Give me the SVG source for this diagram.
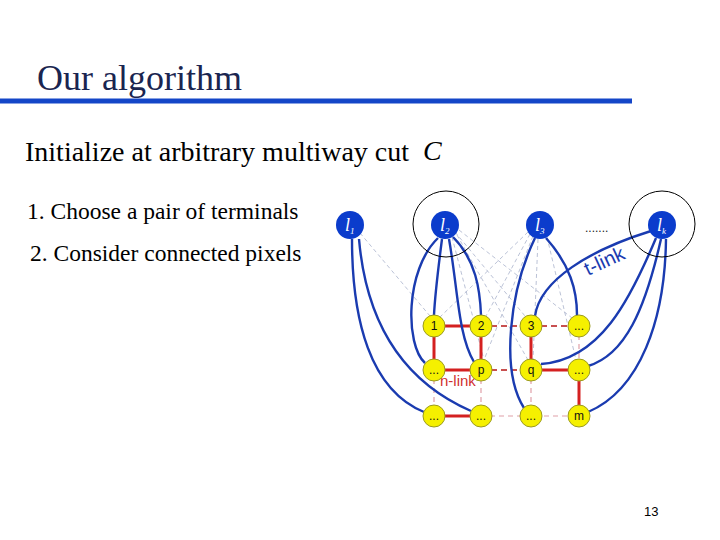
<svg xmlns="http://www.w3.org/2000/svg" width="720" height="540" viewBox="0 0 720 540">
<style>
.serif{font-family:"Liberation Serif","Times New Roman",serif}
.sans{font-family:"Liberation Sans",Arial,sans-serif}
.term{fill:#0b3ccc}
.tl{fill:#ffffff;font-family:"Liberation Serif",serif;font-style:italic;font-size:18px}
.ts{font-size:9px}
.pix{fill:#f5f000;stroke:#9a9a20;stroke-width:1}
.pl{font-family:"Liberation Sans",Arial,sans-serif;font-size:12px;fill:#111}
.blue{fill:none;stroke:#1a3bb0;stroke-width:2.4}
.gd{fill:none;stroke:#aab3cc;stroke-width:0.8;stroke-dasharray:4 3}
.rs{stroke:#d42020;stroke-width:3;fill:none}
.rd{stroke:#c85050;stroke-width:1.8;stroke-dasharray:6 4;fill:none}
.rl{stroke:#e0a0a8;stroke-width:1.2;stroke-dasharray:5 4;fill:none}
.ring{fill:none;stroke:#000;stroke-width:1}
</style>
<rect width="720" height="540" fill="#fff"/>
<text x="37" y="90" font-family="Liberation Serif, serif" font-size="36" fill="#1a2550">Our algorithm</text>
<line x1="0" y1="101" x2="632" y2="101" stroke="#1446c8" stroke-width="5"/>
<text x="25" y="161" font-family="Liberation Serif, serif" font-size="28" fill="#000">Initialize at arbitrary multiway cut</text>
<text x="423" y="160" font-family="Liberation Serif, serif" font-style="italic" font-size="28" fill="#000">C</text>
<text x="27" y="219" font-family="Liberation Serif, serif" font-size="23.5" fill="#000">1. Choose a pair of terminals</text>
<text x="30" y="261" font-family="Liberation Serif, serif" font-size="23.5" fill="#000">2. Consider connected pixels</text>
<text x="644" y="516" class="sans" font-size="13" fill="#000">13</text>

<g id="connectors">
<g id="gray-dashed">
<path class="gd" d="M360 233 L430 316"/>
<path class="gd" d="M455 232 L525 316"/>
<path class="gd" d="M457 235 L528 360"/>
<path class="gd" d="M459 230 L572 318"/>
<path class="gd" d="M452 237 L484 360"/>
<path class="gd" d="M528 232 L440 317"/>
<path class="gd" d="M530 234 L486 316"/>
<path class="gd" d="M533 236 L484 360"/>
<path class="gd" d="M547 237 L576 360"/>
<path class="gd" d="M538 239 L533 360"/>
</g>
<g id="n-links">
<line class="rl" x1="434" y1="370" x2="434" y2="416"/>
<line class="rl" x1="481" y1="370" x2="481" y2="416"/>
<line class="rl" x1="531" y1="370" x2="531" y2="416"/>
<line class="rl" x1="481" y1="416" x2="579" y2="416"/>
<line class="rd" x1="481" y1="326" x2="579" y2="326"/>
<line class="rd" x1="481" y1="370" x2="531" y2="370"/>
<line class="rl" x1="579" y1="326" x2="579" y2="370"/>
<line class="rs" x1="434" y1="326" x2="481" y2="326"/>
<line class="rs" x1="434" y1="326" x2="434" y2="370"/>
<line class="rs" x1="481" y1="326" x2="481" y2="370"/>
<line class="rs" x1="434" y1="370" x2="481" y2="370"/>
<line class="rs" x1="434" y1="416" x2="481" y2="416" stroke-width="4"/>
<line class="rs" x1="531" y1="326" x2="531" y2="370"/>
<line class="rs" x1="531" y1="370" x2="579" y2="370" stroke-width="4"/>
<line class="rs" x1="579" y1="370" x2="579" y2="416"/>
</g>
<g id="t-links">
<path class="blue" d="M352 239 C352 320 370 390 424 412"/>
<path class="blue" d="M359 239 C366 320 400 380 471 411"/>
<path class="blue" d="M438 238 C405 270 405 345 425 363"/>
<path class="blue" d="M442 239 C438 270 435 295 434 315"/>
<path class="blue" d="M449 239 C458 290 458 335 474 362"/>
<path class="blue" d="M453 237 C476 260 480 290 481 315"/>
<path class="blue" d="M535 238 C510 290 500 370 524 408"/>
<path class="blue" d="M546 238 C570 265 577 290 577 315"/>
<path class="blue" d="M651 231 C590 250 540 280 535 316"/>
<path class="blue" d="M656 238 C630 300 600 360 541 364"/>
<path class="blue" d="M661 239 C645 310 625 355 588 366"/>
<path class="blue" d="M666 239 C665 320 640 390 588 412"/>
</g>
</g>

<text class="sans" font-size="15" fill="#d03030" x="440" y="386">n-link</text>
<text class="sans" font-size="20" fill="#1a3bb0" transform="translate(588 276) rotate(-25)">t-link</text>
<text class="sans" font-size="12" fill="#222" x="585" y="232">.......</text>

<g id="ring-l2"><circle class="ring" cx="446" cy="224" r="33"/></g>
<g id="ring-lk"><circle class="ring" cx="662" cy="224" r="33"/></g>

<g id="l1"><circle class="term" cx="350" cy="225" r="14"/><text class="tl" x="345" y="231">l<tspan class="ts" dy="3">1</tspan></text></g>
<g id="l2"><circle class="term" cx="445" cy="225" r="14"/><text class="tl" x="440" y="231">l<tspan class="ts" dy="3">2</tspan></text></g>
<g id="l3"><circle class="term" cx="540" cy="225" r="14"/><text class="tl" x="535" y="231">l<tspan class="ts" dy="3">3</tspan></text></g>
<g id="lk"><circle class="term" cx="662" cy="225" r="14"/><text class="tl" x="657" y="231">l<tspan class="ts" dy="3">k</tspan></text></g>

<g id="p1"><circle class="pix" cx="434" cy="326" r="11"/><text class="pl" x="434" y="330" text-anchor="middle">1</text></g>
<g id="p2"><circle class="pix" cx="481" cy="326" r="11"/><text class="pl" x="481" y="330" text-anchor="middle">2</text></g>
<g id="p3"><circle class="pix" cx="531" cy="326" r="11"/><text class="pl" x="531" y="330" text-anchor="middle">3</text></g>
<g id="p4"><circle class="pix" cx="579" cy="326" r="11"/><text class="pl" x="579" y="330" text-anchor="middle">...</text></g>
<g id="p5"><circle class="pix" cx="434" cy="370" r="11"/><text class="pl" x="434" y="374" text-anchor="middle">...</text></g>
<g id="pp"><circle class="pix" cx="481" cy="370" r="11"/><text class="pl" x="481" y="374" text-anchor="middle">p</text></g>
<g id="pq"><circle class="pix" cx="531" cy="370" r="11"/><text class="pl" x="531" y="374" text-anchor="middle">q</text></g>
<g id="p8"><circle class="pix" cx="579" cy="370" r="11"/><text class="pl" x="579" y="374" text-anchor="middle">...</text></g>
<g id="p9"><circle class="pix" cx="434" cy="416" r="11"/><text class="pl" x="434" y="420" text-anchor="middle">...</text></g>
<g id="p10"><circle class="pix" cx="481" cy="416" r="11"/><text class="pl" x="481" y="420" text-anchor="middle">...</text></g>
<g id="p11"><circle class="pix" cx="531" cy="416" r="11"/><text class="pl" x="531" y="420" text-anchor="middle">...</text></g>
<g id="pm"><circle class="pix" cx="579" cy="416" r="11"/><text class="pl" x="579" y="420" text-anchor="middle">m</text></g>
</svg>
